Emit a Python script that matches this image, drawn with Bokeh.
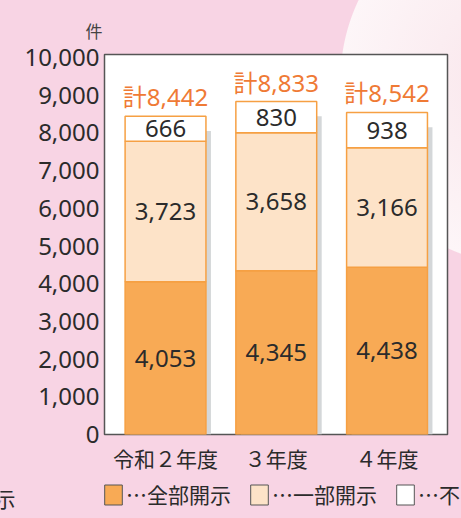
from bokeh.plotting import figure
from bokeh.models import (Range1d, ColumnDataSource, Legend, LegendItem, Label,
                          FixedTicker, NumeralTickFormatter)
from bokeh.transform import dodge
from bokeh.core.properties import value
from bokeh.embed import file_html
from bokeh.resources import INLINE

# ---- data ----
categories = ["令和２年度", "３年度", "４年度"]
full_disclosure = [4053, 4345, 4438]      # 全部開示
partial_disclosure = [3723, 3658, 3166]   # 一部開示
non_disclosure = [666, 830, 938]          # 不開示
legend_labels = ["…全部開示", "…一部開示", "…不開示"]
cut_legend_text = "示"
y_ticks = [0, 1000, 2000, 3000, 4000, 5000, 6000, 7000, 8000, 9000, 10000]
unit_label = "件"
total_prefix = "計"

# ---- styles ----
PINK = "#f8d4e4"
C_FULL = "#f8aa55"
C_PART = "#fde3c8"
C_NONE = "#ffffff"
EDGE = "#f6a043"
TXT = "#2b2b2b"
ORANGE = "#ef7a35"
NUMFONT = "Noto Sans, Noto Sans CJK JP"
JPFONT = "Noto Sans CJK JP"

x = list(range(len(categories)))
seg1_top = full_disclosure
seg2_top = [a + b for a, b in zip(full_disclosure, partial_disclosure)]
totals = [a + b for a, b in zip(seg2_top, non_disclosure)]

src = ColumnDataSource(dict(
    x=x,
    b0=[0] * len(x), t1=seg1_top, t2=seg2_top, t3=totals,
    m1=[t / 2 for t in seg1_top],
    m2=[(a + b) / 2 for a, b in zip(seg1_top, seg2_top)],
    m3=[(a + b) / 2 for a, b in zip(seg2_top, totals)],
    l1=[f"{v:,}" for v in full_disclosure],
    l2=[f"{v:,}" for v in partial_disclosure],
    l3=[f"{v:,}" for v in non_disclosure],
    lt=[f"{total_prefix}{v:,}" for v in totals],
    shadow_top=[t - 390 for t in totals],
))

# ---------------- main chart ----------------
p = figure(width=461, height=475,
           x_range=Range1d(-0.551, 2.546), y_range=Range1d(0, 10080),
           output_backend="svg", toolbar_location=None,
           min_border_left=104, min_border_right=14,
           min_border_top=54, min_border_bottom=36)

p.background_fill_color = "white"
p.border_fill_alpha = 0
p.outline_line_color = "#555555"
p.outline_line_width = 1.5
p.styles = {
    "background": f"radial-gradient(circle 186px at 526px 80px, #f9e4ea 0px, #fdf6f8 185px, {PINK} 186px)",
}
p.grid.visible = False

# unit label as title
p.title.text = unit_label
p.title.align = "left"
p.title.offset = -19
p.title.standoff = 23
p.title.text_font = JPFONT
p.title.text_font_size = "17px"
p.title.text_font_style = "normal"
p.title.text_color = "#444444"

BW = 0.73
# shadows
p.vbar(x=dodge("x", 5 / 110.75, range=p.x_range), bottom="b0", top="shadow_top",
       width=BW, source=src, fill_color="#d4d7d9", line_color=None)
# bars
p.vbar(x="x", bottom="b0", top="t1", width=BW, source=src,
       fill_color=C_FULL, line_color=EDGE, line_width=1.5)
p.vbar(x="x", bottom="t1", top="t2", width=BW, source=src,
       fill_color=C_PART, line_color=EDGE, line_width=1.5)
p.vbar(x="x", bottom="t2", top="t3", width=BW, source=src,
       fill_color=C_NONE, line_color=EDGE, line_width=1.5)

for ycol, tcol in (("m1", "l1"), ("m2", "l2"), ("m3", "l3")):
    p.text(x="x", y=ycol, text=tcol, source=src, text_align="center",
           text_baseline="middle", text_font=value(NUMFONT),
           text_font_size="24px", text_color=TXT)

p.text(x="x", y="t3", text="lt", source=src, text_align="center",
       text_baseline="bottom", y_offset=-3, text_font=value(NUMFONT),
       text_font_size="24px", text_color=ORANGE)

# axes
p.yaxis.ticker = FixedTicker(ticks=y_ticks)
p.yaxis.formatter = NumeralTickFormatter(format="0,0")
p.yaxis.major_label_text_font = NUMFONT
p.yaxis.major_label_text_font_size = "24px"
p.yaxis.major_label_text_color = TXT
p.yaxis.axis_line_color = None
p.yaxis.major_tick_line_color = None
p.yaxis.minor_tick_line_color = None
p.yaxis.major_tick_out = 0
p.yaxis.major_label_standoff = 5

p.xaxis.ticker = FixedTicker(ticks=x)
p.xaxis.major_label_overrides = {i: c for i, c in zip(x, categories)}
p.xaxis.major_label_text_font = JPFONT
p.xaxis.major_label_text_font_size = "21px"
p.xaxis.major_label_text_color = TXT
p.xaxis.axis_line_color = None
p.xaxis.major_tick_line_color = None
p.xaxis.minor_tick_line_color = None
p.xaxis.major_tick_out = 0
p.xaxis.major_label_standoff = 8

# ---------------- legend row (separate root, full-frame) ----------------
p2 = figure(width=461, height=43, x_range=Range1d(0, 461), y_range=Range1d(0, 43),
            output_backend="svg", toolbar_location=None,
            x_axis_location=None, y_axis_location=None, min_border=0)
p2.grid.visible = False
p2.outline_line_color = None
p2.background_fill_color = PINK
p2.border_fill_color = PINK
p2.styles = {"background": PINK}

# legend swatch proxies: kept outside the visible range, only their style is used
swatch_src = ColumnDataSource(dict(x=[-100], top=[-100]))
items = []
for lab, col in zip(legend_labels, [C_FULL, C_PART, C_NONE]):
    r = p2.vbar(x="x", top="top", width=0.5, source=swatch_src,
                fill_color=col, line_color="#555555", line_width=1)
    items.append(LegendItem(label=lab, renderers=[r]))
legend = Legend(items=items, orientation="horizontal", location=(102, 9),
                padding=0, margin=0, spacing=17, label_standoff=2,
                glyph_width=22, glyph_height=25,
                label_text_font=JPFONT, label_text_font_size="21px",
                label_text_color=TXT, border_line_color=None,
                background_fill_alpha=0)
p2.add_layout(legend, "center")

# cut-off end of a neighbouring legend entry at the left edge
p2.add_layout(Label(x=15, y=21, text=cut_legend_text, text_align="right",
                    text_baseline="middle", text_font=JPFONT,
                    text_font_size="21px", text_color=TXT))

open("out.html", "w").write(file_html([p, p2], INLINE))
